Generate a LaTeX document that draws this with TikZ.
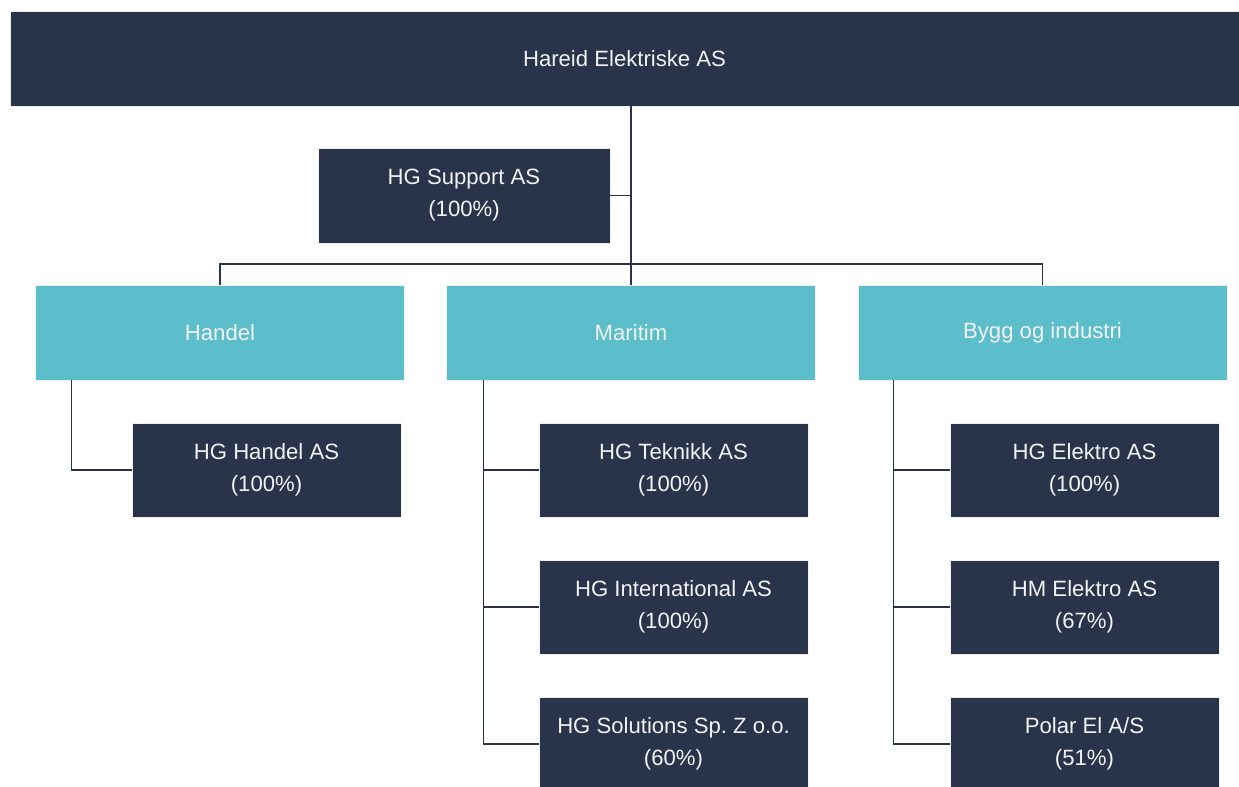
\documentclass[tikz,border=0pt]{standalone}
\usepackage{fontspec}
\setmainfont{Liberation Sans}
\definecolor{hgnavy}{HTML}{29334A}
\definecolor{hgteal}{HTML}{5BBECA}
\tikzset{
  box/.style={inner sep=0pt, align=center, text=white!94!hgnavy, draw=white!88!gray, line width=0.4pt,
    font=\fontsize{16.6}{24}\selectfont},
  owner/.style={box, fill=hgnavy, minimum width=921.75pt, minimum height=71.25pt},
  company/.style={box, fill=hgnavy, minimum width=201.75pt, minimum height=70.5pt},
  division/.style={box, fill=hgteal, minimum width=276.75pt, minimum height=71.25pt},
  link/.style={draw=hgnavy, line width=1.1pt}
}
\begin{document}
\begin{tikzpicture}[x=0.75pt,y=-0.75pt]
\useasboundingbox[clip] (0,0) rectangle (1239,787);
\fill[white] (0,0) rectangle (1239,787);
% owner and support
\node[owner] (hareid) at (624.5,58.5) {Hareid Elektriske AS};
\node[company, minimum width=219pt, minimum height=71.25pt] (support) at (464,195.5) {HG Support AS\\(100\%)};
% divisions
\node[division] (handel) at (220,332.5) {Handel};
\node[division] (maritim) at (631,332.5) {Maritim};
\node[division] (bygg) at (1042.5,332.5) {Bygg og industri};
\coordinate (hub) at (631,264);
% companies
\node[company] (hghandel) at (266.5,470) {HG Handel AS\\(100\%)};
\node[company] (teknikk) at (673.5,470) {HG Teknikk AS\\(100\%)};
\node[company] (intl) at (673.5,607) {HG International AS\\(100\%)};
\node[company] (solutions) at (673.5,744) {HG Solutions Sp.\ Z o.o.\\(60\%)};
\node[company] (hgelektro) at (1084.5,470) {HG Elektro AS\\(100\%)};
\node[company] (hmelektro) at (1084.5,607) {HM Elektro AS\\(67\%)};
\node[company] (polar) at (1084.5,744) {Polar El A/S\\(51\%)};
% connectors
\draw[link] (hareid.south -| maritim.north) -- (maritim.north);
\draw[link] (support.east) -- (support.east -| maritim.north);
\draw[link] (handel.north) |- (hub) -| (bygg.north);
\draw[link] ([xshift=27pt]handel.south west) |- (hghandel.west);
\draw[link] ([xshift=27.75pt]maritim.south west) |- (teknikk.west);
\draw[link] ([xshift=27.75pt]maritim.south west) |- (intl.west);
\draw[link] ([xshift=27.75pt]maritim.south west) |- (solutions.west);
\draw[link] ([xshift=27pt]bygg.south west) |- (hgelektro.west);
\draw[link] ([xshift=27pt]bygg.south west) |- (hmelektro.west);
\draw[link] ([xshift=27pt]bygg.south west) |- (polar.west);
\end{tikzpicture}
\end{document}
